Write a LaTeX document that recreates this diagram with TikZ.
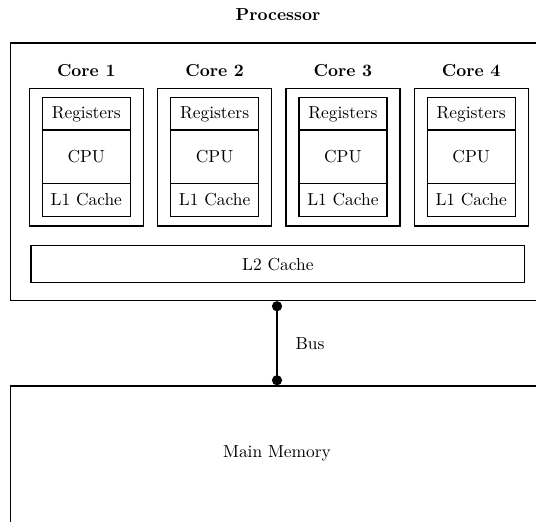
\documentclass[tikz,border=0pt]{standalone}
\usetikzlibrary{arrows.meta}
\def\u{0.575pt}
\tikzset{
  box/.style={draw, thick, rectangle, inner sep=0pt, fill=white},
  title/.style={font=\bfseries, inner sep=0pt},
  plain/.style={inner sep=0pt},
}
\begin{document}
\begin{tikzpicture}[x=0.575pt,y=-0.575pt]
\useasboundingbox (0,0) rectangle (536,522);
\fill[white] (0,0) rectangle (536,522);
\clip (0,0) rectangle (536,522);
% processor
\node[title] (ptitle) at (278,15) {Processor};
\node[box, minimum width=534.3*\u, minimum height=257.5*\u] (proc) at (277.85,171.75) {};
\foreach \i in {1,2,3,4}{
  \pgfmathsetmacro\cx{86.3+128.3*(\i-1)}
  \node[title] (clab\i) at (\cx,71) {Core \i};
  \node[box, minimum width=114*\u, minimum height=137.3*\u] (core\i) at (\cx,157.35) {};
  \node[box, minimum width=88*\u, minimum height=32.3*\u] (reg\i) at (\cx,113.85) {Registers};
  \node[box, minimum width=88*\u, minimum height=53.3*\u] (cpu\i) at (\cx,156.65) {CPU};
  \node[box, minimum width=88*\u, minimum height=33.4*\u] (lone\i) at (\cx,200) {L1 Cache};
}
\node[box, minimum width=493.7*\u, minimum height=37*\u] (ltwo) at (277.85,264.2) {L2 Cache};
% memory
\node[box, minimum width=534.3*\u, minimum height=154*\u] (mem) at (277.85,463) {};
\node[plain] (memlab) at (277,453) {Main Memory};
% bus
\coordinate (bx) at (277,0);
\draw[thick, {Circle[length=5.8pt]}-{Circle[length=5.8pt]}] (proc.south -| bx) -- (mem.north -| bx);
\node[plain] (buslab) at (310,344) {Bus};
\end{tikzpicture}
\end{document}
